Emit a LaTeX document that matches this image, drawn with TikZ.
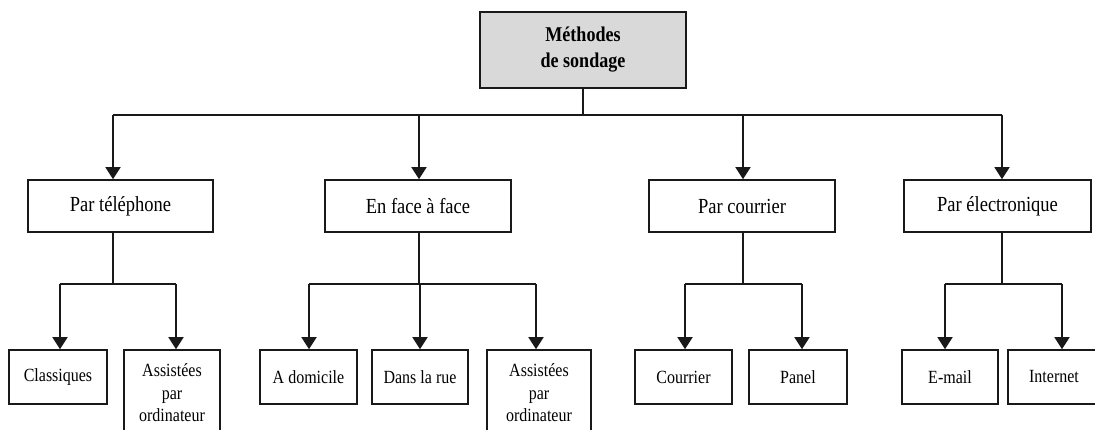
\documentclass[tikz,border=0pt]{standalone}
\usepackage{fontspec}
\setmainfont{Liberation Serif}[FakeStretch=0.86]
\usetikzlibrary{arrows.meta}
\definecolor{boxgray}{RGB}{217,217,217}
\tikzset{
  x=1pt,y=-1pt,
  line/.style={line width=1.6pt,draw=black!90},
  arr/.style={line,-{Triangle[length=12pt,width=15pt]}},
  box/.style={draw=black!90,line width=1.6pt,inner sep=0pt,align=center,anchor=center},
  lvltwo/.style={box,minimum height=52pt,font=\fontsize{21.5}{22}\selectfont},
  lvlthree/.style={box,minimum height=54pt,font=\fontsize{18.6}{22.5}\selectfont},
  title/.style={box,fill=boxgray,minimum width=206pt,minimum height=76pt,font=\fontsize{21}{26}\selectfont\bfseries},
}
\begin{document}
\begin{tikzpicture}
\useasboundingbox (0,0) rectangle (1095,430);
\clip (0,0) rectangle (1095,430);
% top
\node[title] (top) at (583,50) {Méthodes\\de sondage};
% level 2
\node[lvltwo,minimum width=185pt] (tel) at (120.5,206) {Par téléphone};
\node[lvltwo,minimum width=186pt] (face) at (418,206) {En face à face};
\node[lvltwo,minimum width=186pt] (cour) at (742,206) {Par courrier};
\node[lvltwo,minimum width=187pt] (elec) at (997.5,206) {Par électronique};
% level 3
\node[lvlthree,minimum width=98pt] (clas) at (58,377) {Classiques};
\node[lvlthree,minimum width=96pt,minimum height=86pt] (ass1) at (172,393) {Assistées\\par\\ordinateur};
\node[lvlthree,minimum width=97pt] (dom) at (308.5,377) {A domicile};
\node[lvlthree,minimum width=96pt] (rue) at (420,377) {Dans la rue};
\node[lvlthree,minimum width=104pt,minimum height=86pt] (ass2) at (539,393) {Assistées\\par\\ordinateur};
\node[lvlthree,minimum width=97pt] (courr) at (683.5,377) {Courrier};
\node[lvlthree,minimum width=98pt] (panel) at (798,377) {Panel};
\node[lvlthree,minimum width=96pt] (mail) at (950,377) {E-mail};
\node[lvlthree,minimum width=92pt] (net) at (1054,377) {Internet};
% bus coordinates
\coordinate (b0) at (583,115);
\coordinate (b1) at (113,115);
\coordinate (b2) at (419,115);
\coordinate (b3) at (743,115);
\coordinate (b4) at (1002,115);
\draw[line] (top.south) -- (b0);
\draw[line] (b1) -- (b4);
\draw[arr] (b1) -- (b1 |- tel.north);
\draw[arr] (b2) -- (b2 |- face.north);
\draw[arr] (b3) -- (b3 |- cour.north);
\draw[arr] (b4) -- (b4 |- elec.north);
% telephone
\coordinate (t0) at (113,284);
\coordinate (t1) at (60,284);
\coordinate (t2) at (176,284);
\draw[line] (t0 |- tel.south) -- (t0);
\draw[line] (t1) -- (t2);
\draw[arr] (t1) -- (t1 |- clas.north);
\draw[arr] (t2) -- (t2 |- ass1.north);
% face a face
\coordinate (f0) at (419,284);
\coordinate (f1) at (309,284);
\coordinate (f2) at (420,284);
\coordinate (f3) at (536,284);
\draw[line] (f0 |- face.south) -- (f0);
\draw[line] (f1) -- (f3);
\draw[arr] (f1) -- (f1 |- dom.north);
\draw[arr] (f2) -- (f2 |- rue.north);
\draw[arr] (f3) -- (f3 |- ass2.north);
% courrier
\coordinate (c0) at (743,284);
\coordinate (c1) at (685,284);
\coordinate (c2) at (802,284);
\draw[line] (c0 |- cour.south) -- (c0);
\draw[line] (c1) -- (c2);
\draw[arr] (c1) -- (c1 |- courr.north);
\draw[arr] (c2) -- (c2 |- panel.north);
% electronique
\coordinate (e0) at (1002,284);
\coordinate (e1) at (945,284);
\coordinate (e2) at (1062,284);
\draw[line] (e0 |- elec.south) -- (e0);
\draw[line] (e1) -- (e2);
\draw[arr] (e1) -- (e1 |- mail.north);
\draw[arr] (e2) -- (e2 |- net.north);
\end{tikzpicture}
\end{document}
